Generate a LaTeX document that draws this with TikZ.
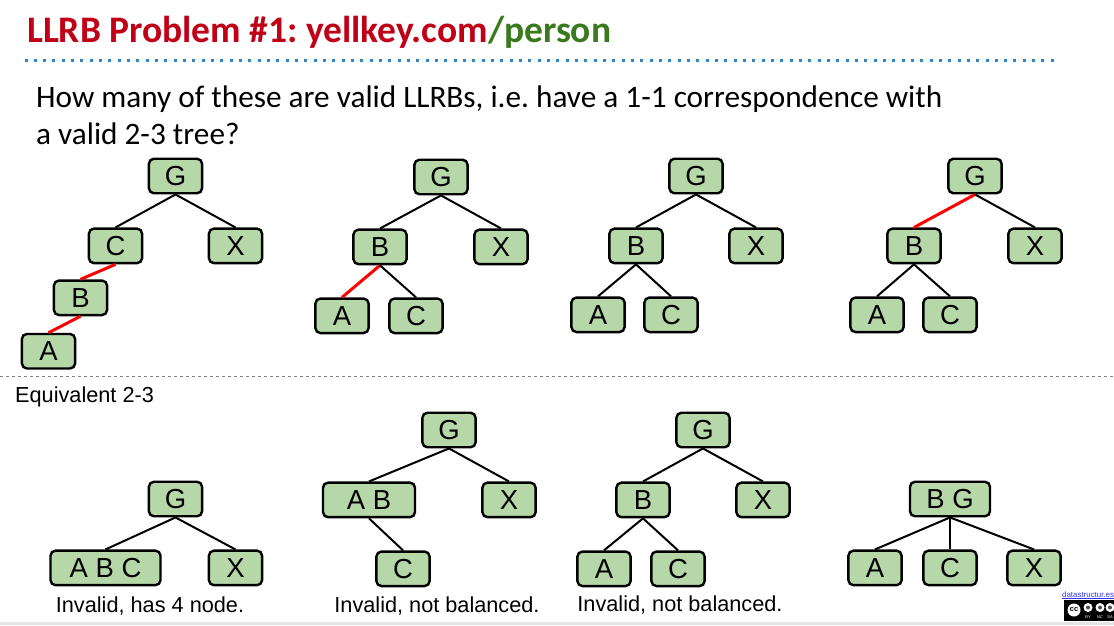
\documentclass[tikz,border=0pt]{standalone}
\usepackage{fontspec}
\usepackage{xcolor}
\usepackage{tikz}
\usetikzlibrary{positioning}
\setmainfont{Carlito}
\newfontfamily\arialfont{Liberation Sans}
\definecolor{NodeGreen}{HTML}{B6D7A8}
\definecolor{TitleRed}{HTML}{C00017}
\definecolor{TitleGreen}{HTML}{3A7A1E}
\definecolor{RuleBlue}{HTML}{2E86C8}

\begin{document}
\frenchspacing
\begin{tikzpicture}[
  x=1pt,y=-1pt,
  node distance=33pt,
  box/.style={draw,line width=2.4pt,rounded corners=5pt,fill=NodeGreen,minimum width=53.2pt,
    minimum height=34.5pt,inner sep=0pt,align=center,font=\arialfont\fontsize{27.5}{32}\selectfont},
  link/.style={line width=2pt},
  redlink/.style={line width=3pt,red},
  caption/.style={inner sep=0pt,font=\arialfont\fontsize{21.7}{25}\selectfont}
]
  \useasboundingbox (0,0) rectangle (1114,625);

  % heading
  \node[anchor=base west,inner sep=0pt,font=\bfseries\fontsize{37.5}{44}\selectfont] (title) at (27,42)
    {\textcolor{TitleRed}{LLRB Problem \#1: yellkey.com}\textcolor{TitleGreen}{/person}};
  \coordinate (ruleL) at (24.5,60);
  \coordinate (ruleR) at (1060,60);
  \draw[RuleBlue,line width=3pt,dash pattern=on 3pt off 6.33pt] (ruleL) -- (ruleR);
  \node[anchor=base west,inner sep=0pt,font=\fontsize{31.25}{37}\selectfont] (question1) at (36,107)
    {How many of these are valid LLRBs, i.e. have a 1-1 correspondence with};
  \node[anchor=base west,inner sep=0pt,font=\fontsize{31.25}{37}\selectfont] (question2) at (36,144)
    {a valid 2-3 tree?};

  % LLRBs
  \node[box] (g1) at (175.5,176) {G};
  \node[box, below=of g1, xshift=-60pt] (c1) {C};
  \node[box, below=of g1, xshift=60pt] (x1) {X};
  \node[box, below=15pt of c1, xshift=-35pt] (b1) {B};
  \node[box, below=16.5pt of b1, xshift=-32pt] (a1) {A};

  \node[box] (g2) at (441,177) {G};
  \node[box, below=of g2, xshift=-61pt] (b2) {B};
  \node[box, below=of g2, xshift=60pt] (x2) {X};
  \node[box, below=32pt of b2, xshift=-38pt] (a2) {A};
  \node[box, below=32pt of b2, xshift=36pt] (c2) {C};

  \node[box] (g3) at (696,176) {G};
  \node[box, below=of g3, xshift=-60pt] (b3) {B};
  \node[box, below=of g3, xshift=60pt] (x3) {X};
  \node[box, below=32pt of b3, xshift=-38pt] (a3) {A};
  \node[box, below=32pt of b3, xshift=35pt] (c3) {C};

  \node[box] (g4) at (975,176) {G};
  \node[box, below=of g4, xshift=-61pt] (b4) {B};
  \node[box, below=of g4, xshift=60pt] (x4) {X};
  \node[box, below=32pt of b4, xshift=-37pt] (a4) {A};
  \node[box, below=32pt of b4, xshift=36pt] (c4) {C};

  \draw[link] (g1.south) -- (c1.north);
  \draw[link] (g1.south) -- (x1.north);
  \draw[redlink] (c1.south) -- (b1.north);
  \draw[redlink] (b1.south) -- (a1.north);

  \draw[link] (g2.south) -- (b2.north);
  \draw[link] (g2.south) -- (x2.north);
  \draw[redlink] (b2.south) -- (a2.north);
  \draw[link] (b2.south) -- (c2.north);

  \draw[link] (g3.south) -- (b3.north);
  \draw[link] (g3.south) -- (x3.north);
  \draw[link] (b3.south) -- (a3.north);
  \draw[link] (b3.south) -- (c3.north);

  \draw[redlink] (g4.south) -- (b4.north);
  \draw[link] (g4.south) -- (x4.north);
  \draw[link] (b4.south) -- (a4.north);
  \draw[link] (b4.south) -- (c4.north);

  % divider
  \coordinate (divL) at (0,376);
  \coordinate (divR) at (1114,376);
  \draw[gray,line width=1pt,dashed] (divL) -- (divR);
  \node[caption, anchor=base west] (equiv) at (15,402) {Equivalent 2-3};

  % 2-3 trees
  \node[box] (g5) at (175.5,499) {G};
  \node[box, below=32pt of g5, xshift=-70pt, minimum width=110pt] (abc5) {A B C};
  \node[box, below=32pt of g5, xshift=60pt] (x5) {X};

  \node[box] (g6) at (449,430) {G};
  \node[box, below=of g6, xshift=-80pt, minimum width=92pt] (ab6) {A B};
  \node[box, below=of g6, xshift=60pt] (x6) {X};
  \node[box, below=32pt of ab6, xshift=34pt] (c6) {C};

  \node[box] (g7) at (703,430) {G};
  \node[box, below=of g7, xshift=-60pt] (b7) {B};
  \node[box, below=of g7, xshift=60pt] (x7) {X};
  \node[box, below=32pt of b7, xshift=-39pt] (a7) {A};
  \node[box, below=32pt of b7, xshift=35pt] (c7) {C};

  \node[box, minimum width=80pt] (bg8) at (950,499) {B G};
  \node[box, below=32pt of bg8, xshift=-75pt] (a8) {A};
  \node[box, below=32pt of bg8] (c8) {C};
  \node[box, below=32pt of bg8, xshift=84pt] (x8) {X};

  \draw[link] (g5.south) -- (abc5.north);
  \draw[link] (g5.south) -- (x5.north);

  \draw[link] (g6.south) -- (ab6.north);
  \draw[link] (g6.south) -- (x6.north);
  \draw[link] (ab6.south) -- (c6.north);

  \draw[link] (g7.south) -- (b7.north);
  \draw[link] (g7.south) -- (x7.north);
  \draw[link] (b7.south) -- (a7.north);
  \draw[link] (b7.south) -- (c7.north);

  \draw[link] (bg8.south) -- (a8.north);
  \draw[link] (bg8.south) -- (c8.north);
  \draw[link] (bg8.south) -- (x8.north);

  % captions
  \node[caption, anchor=base] (note5) at (150,612) {Invalid, has 4 node.};
  \node[caption, anchor=base] (note6) at (437,612) {Invalid, not balanced.};
  \node[caption, anchor=base] (note7) at (680,611) {Invalid, not balanced.};

  % licence badge and page edge
  \fill[black!10] (0,622) rectangle (1114,625);
  \begin{scope}
    \clip (0,0) rectangle (1114,625);
    \node[anchor=base west,inner sep=0pt,text=blue!80!white,font=\arialfont\fontsize{7.9}{9}\selectfont] (site) at (1062,597)
      {\underline{datastructur.es}};
    \fill[black] (1064,600) rectangle (1116,620.5);
    \fill[white] (1074,610) circle (6.5);
    \node[inner sep=0pt,font=\arialfont\bfseries\fontsize{7.5}{8}\selectfont] (cc) at (1074,610) {cc};
    \foreach \cx/\lbl in {1088/BY,1100/NC,1110/SA} {
      \fill[white] (\cx,607.5) circle (4.5);
      \fill[black!70] (\cx,607.5) circle (2);
      \node[inner sep=0pt,text=white,font=\arialfont\fontsize{4}{4}\selectfont] (\lbl) at (\cx,617) {\lbl};
    }
  \end{scope}
\end{tikzpicture}
\end{document}
